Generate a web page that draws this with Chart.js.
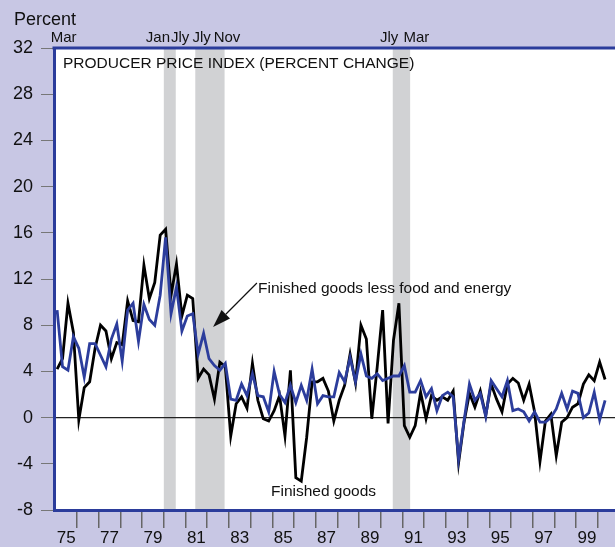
<!DOCTYPE html>
<html>
<head>
<meta charset="utf-8">
<script src="https://cdn.jsdelivr.net/npm/chart.js@4"></script>
<style>
  html, body { margin: 0; padding: 0; background: #c8c7e4; }
  #wrap { width: 615px; height: 547px; }
</style>
</head>
<body>
<div id="wrap"><canvas id="ppi" width="615" height="547"></canvas></div>
<script>
// quarterly percent change, 1975 Q1 - 2000 Q2
const firstYear = 1975;
const finishedGoods = [
  4.2, 5.1, 9.9, 7.4,   -0.2, 2.6, 3.1, 6.0,   8.0, 7.5, 5.1, 6.5,   6.3, 10.1, 8.4, 8.3,
  13.2, 10.3, 11.7, 15.8,   16.3, 10.6, 13.3, 8.8,   10.6, 10.3, 3.4, 4.2,   3.7, 1.6, 4.8, 4.4,
  -1.6, 1.2, 1.8, 0.8,   4.7, 1.5, -0.1, -0.3,   0.6, 1.9, -1.6, 4.1,   -5.2, -5.5, -1.7, 3.1,
  3.1, 3.4, 2.3, -0.3,   1.5, 2.8, 5.5, 3.0,   8.0, 6.8, -0.1, 4.4,   9.3, -0.5, 6.7, 9.9,
  -0.7, -1.7, -0.7, 2.2,   -0.1, 1.9, 1.5, 1.8,   1.5, 2.3, -3.9, -0.4,   2.1, 0.9, 2.3, 0.2,
  2.9, 1.6, 0.5, 2.9,   3.4, 3.0, 1.5, 2.9,   0.5, -3.8, -0.3, 0.3,   -3.3, -0.4, 0.0, 0.9,
  1.2, 2.9, 3.7, 3.2,   4.8, 3.3
];
const lessFoodEnergy = [
  9.3, 4.4, 4.1, 7.0,   6.0, 3.5, 6.4, 6.4,   5.4, 4.4, 6.8, 8.1,   4.9, 9.3, 9.9, 6.6,
  9.8, 8.5, 8.0, 10.6,   15.6, 9.0, 11.3, 7.5,   8.8, 9.0, 5.5, 7.3,   5.1, 4.5, 4.1, 4.7,
  1.6, 1.5, 2.9, 1.9,   3.8, 1.9, 1.8, 0.5,   4.0, 2.0, 1.3, 2.8,   1.3, 2.8, 1.5, 4.2,
  1.2, 1.9, 1.8, 1.8,   3.9, 3.1, 5.2, 3.1,   5.5, 3.6, 3.4, 3.8,   3.2, 3.4, 3.6, 3.6,
  4.5, 2.2, 2.2, 3.2,   1.8, 2.5, 0.6, 1.9,   2.2, 1.8, -3.6, -0.3,   2.9, 1.5, 2.1, 0.1,
  3.2, 2.5, 1.8, 3.2,   0.6, 0.75, 0.5, -0.3,   0.5, -0.4, -0.4, 0.0,   0.75, 2.1, 0.75, 2.3,
  2.1, 0.0, 0.4, 2.2,   -0.2, 1.5
];
const yTicks = [-8, -4, 0, 4, 8, 12, 16, 20, 24, 28, 32];
const yearLabels = ['75', '77', '79', '81', '83', '85', '87', '89', '91', '93', '95', '97', '99'];
// recessions, decimal years
const recessions = [[1980.0, 1980.55], [1981.45, 1982.8], [1990.55, 1991.35]];
const turnLabels = ['Mar', 'Jan', 'Jly', 'Jly', 'Nov', 'Jly', 'Mar'];
const turnLabelAt = [1975.38, 1979.73, 1980.75, 1981.74, 1982.91, 1990.38, 1991.64];

const FONT = "'Liberation Sans', Arial, Helvetica, sans-serif";
const LAVENDER = '#c8c7e4';
const FRAME = '#2b3c9b';
const BLUE = '#2c3d9c';

// quarter -> decimal year (first month of the quarter)
function toPoints(values) {
  return values.map((v, i) => ({ x: firstYear + Math.floor(i / 4) + ((i % 4) * 3 + 1) / 12, y: v }));
}

const overlay = {
  id: 'overlay',
  beforeDraw(chart) {
    const { ctx, chartArea: a } = chart;
    const x = chart.scales.x, y = chart.scales.y;
    ctx.save();
    ctx.fillStyle = LAVENDER;
    ctx.fillRect(0, 0, chart.width, chart.height);
    ctx.fillStyle = '#ffffff';
    ctx.fillRect(a.left, a.top, a.right - a.left, a.bottom - a.top);

    ctx.fillStyle = '#d1d2d4';
    recessions.forEach(([s, e]) => {
      const x0 = x.getPixelForValue(s), x1 = x.getPixelForValue(e);
      ctx.fillRect(x0, a.top, x1 - x0, a.bottom - a.top);
    });

    const y0 = y.getPixelForValue(0);
    ctx.strokeStyle = '#222';
    ctx.lineWidth = 1.2;
    ctx.beginPath();
    ctx.moveTo(a.left, y0);
    ctx.lineTo(a.right, y0);
    ctx.stroke();

    ctx.fillStyle = '#111';
    ctx.font = '15.5px ' + FONT;
    ctx.textAlign = 'left';
    ctx.textBaseline = 'alphabetic';
    ctx.fillText('PRODUCER PRICE INDEX (PERCENT CHANGE)', a.left + 9, a.top + 20);
    ctx.restore();
  },
  afterDatasetsDraw(chart) {
    const { ctx, chartArea: a } = chart;
    const x = chart.scales.x, y = chart.scales.y;
    ctx.save();

    // top frame line
    ctx.strokeStyle = FRAME;
    ctx.lineWidth = 3;
    ctx.beginPath();
    ctx.moveTo(a.left - 1.5, a.top);
    ctx.lineTo(chart.width, a.top);
    ctx.stroke();

    ctx.fillStyle = '#111';
    ctx.textBaseline = 'alphabetic';

    ctx.font = '18px ' + FONT;
    ctx.textAlign = 'left';
    ctx.fillText('Percent', 14, 25);

    ctx.font = '15px ' + FONT;
    ctx.textAlign = 'center';
    turnLabels.forEach((t, i) => ctx.fillText(t, x.getPixelForValue(turnLabelAt[i]), a.top - 6));

    ctx.font = '15.5px ' + FONT;
    ctx.textAlign = 'left';
    ctx.fillText('Finished goods less food and energy', x.getPixelForValue(1984.34), y.getPixelForValue(10.8));
    ctx.textAlign = 'center';
    ctx.fillText('Finished goods', x.getPixelForValue(1987.36), y.getPixelForValue(-6.8));

    // arrow to the core series
    const tx = x.getPixelForValue(1984.29), ty = y.getPixelForValue(11.65);
    const hx = x.getPixelForValue(1982.27), hy = y.getPixelForValue(7.84);
    const ang = Math.atan2(hy - ty, hx - tx);
    const len = 18, half = 6;
    const bx = hx - len * Math.cos(ang), by = hy - len * Math.sin(ang);
    ctx.strokeStyle = '#111';
    ctx.lineWidth = 1.2;
    ctx.beginPath();
    ctx.moveTo(tx, ty);
    ctx.lineTo(bx, by);
    ctx.stroke();
    ctx.beginPath();
    ctx.moveTo(hx, hy);
    ctx.lineTo(bx + half * Math.sin(ang), by - half * Math.cos(ang));
    ctx.lineTo(bx - half * Math.sin(ang), by + half * Math.cos(ang));
    ctx.closePath();
    ctx.fill();

    ctx.restore();
  }
};

new Chart(document.getElementById('ppi'), {
  type: 'line',
  data: {
    datasets: [
      {
        label: 'Finished goods less food and energy',
        data: toPoints(lessFoodEnergy),
        borderColor: BLUE,
        borderWidth: 2.8,
        pointRadius: 0,
        tension: 0,
        fill: false
      },
      {
        label: 'Finished goods',
        data: toPoints(finishedGoods),
        borderColor: '#000000',
        borderWidth: 2.8,
        pointRadius: 0,
        tension: 0,
        fill: false
      }
    ]
  },
  options: {
    responsive: false,
    animation: false,
    layout: { padding: { top: 48, left: 0, right: 0, bottom: 0 } },
    plugins: { legend: { display: false }, tooltip: { enabled: false } },
    scales: {
      x: {
        type: 'linear',
        min: 1974.94,
        max: 2000.79,
        afterBuildTicks: (s) => {
          const ticks = [];
          for (let yr = firstYear; yr <= 2000; yr++) {
            ticks.push({ value: yr });
            if (yr < 2000) ticks.push({ value: yr + 0.5 });
          }
          s.ticks = ticks;
        },
        afterFit: (s) => { s.height = 37; },
        grid: {
          drawOnChartArea: false,
          tickLength: 18,
          lineWidth: 1.5,
          tickColor: (c) => (c.tick && Number.isInteger(c.tick.value) && c.tick.value > firstYear) ? '#666' : 'rgba(0,0,0,0)'
        },
        border: { color: FRAME, width: 3 },
        ticks: {
          autoSkip: false,
          maxRotation: 0,
          minRotation: 0,
          padding: 0,
          color: '#111',
          font: { family: FONT, size: 17 },
          callback: (v) => {
            if (Number.isInteger(v)) return '';
            const idx = (Math.floor(v) - firstYear) / 2;
            return Number.isInteger(idx) && yearLabels[idx] ? yearLabels[idx] : '';
          }
        }
      },
      y: {
        min: -8,
        max: 32,
        afterBuildTicks: (s) => { s.ticks = yTicks.map(v => ({ value: v })); },
        afterFit: (s) => { s.width = 54; },
        grid: { drawOnChartArea: false, tickLength: 13, tickColor: '#777', lineWidth: 1 },
        border: { color: FRAME, width: 3 },
        ticks: {
          padding: 8,
          color: '#111',
          font: { family: FONT, size: 18 },
          callback: (v) => String(v)
        }
      }
    }
  },
  plugins: [overlay]
});
</script>
</body>
</html>
